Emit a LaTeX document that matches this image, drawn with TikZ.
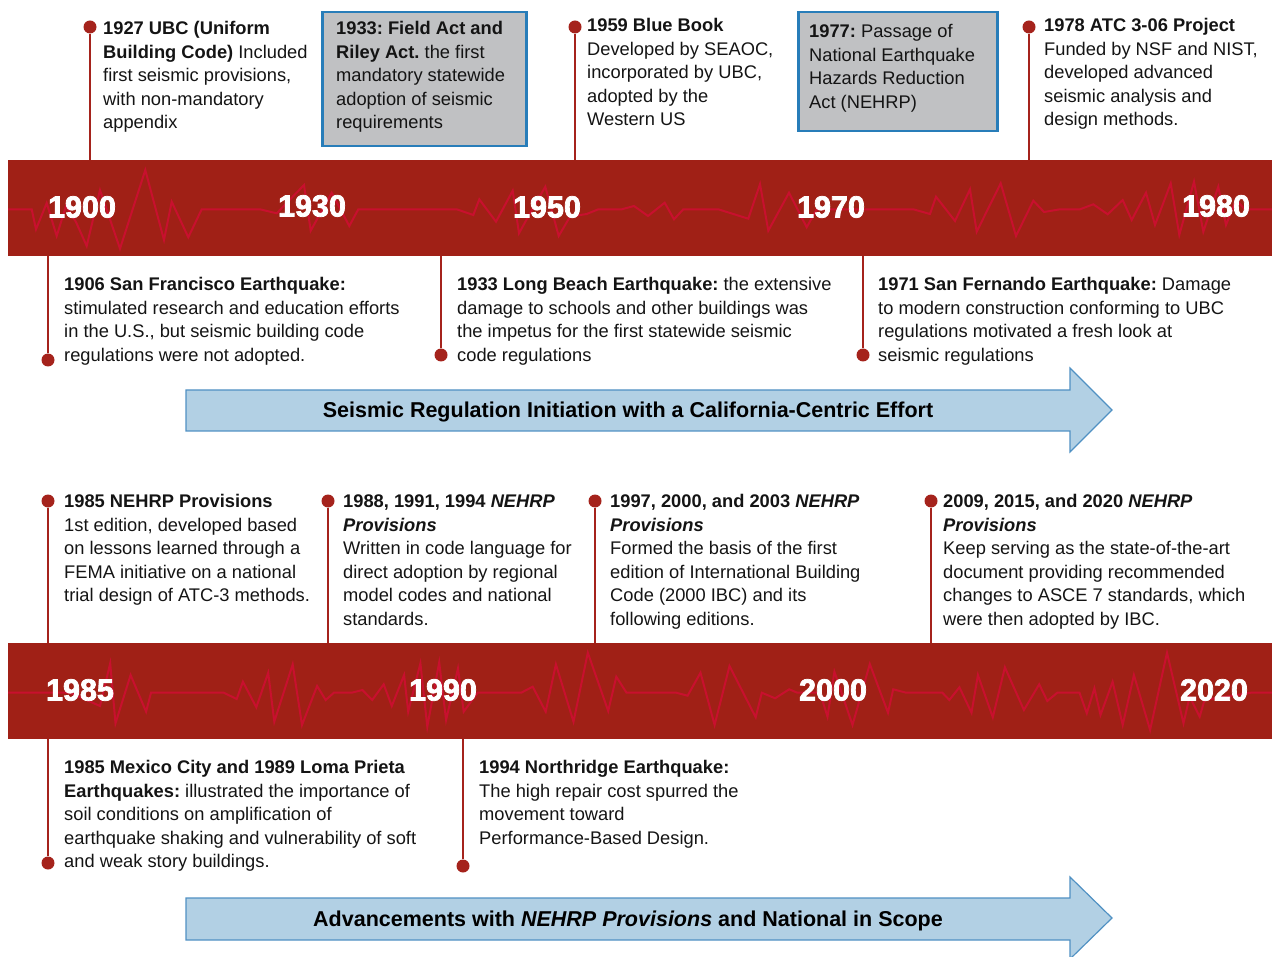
\documentclass[tikz,border=0pt]{standalone}
\usepackage{fontspec}
\setmainfont{Liberation Sans}
\newfontfamily\yearfont[FakeBold=2.5]{Liberation Sans Bold}
\definecolor{bandred}{RGB}{160,32,22}
\definecolor{quake}{RGB}{200,16,46}
\definecolor{stem}{RGB}{165,35,28}
\definecolor{boxgray}{RGB}{192,193,195}
\definecolor{boxblue}{RGB}{40,125,185}
\definecolor{arrowfill}{RGB}{178,208,228}
\definecolor{arrowline}{RGB}{80,145,195}
\definecolor{txt}{RGB}{20,20,20}
\tikzset{
  band/.style={fill=bandred, draw=none, anchor=north west, inner sep=0pt, minimum width=1264pt, minimum height=96pt},
  wave/.style={quake, line width=2pt, line join=miter},
  stemline/.style={stem, line width=2.5pt},
  dot/.style={circle, fill=stem, inner sep=0pt, minimum size=13pt},
  body/.style={anchor=north west, inner sep=0pt, align=left, text=txt, font=\fontsize{18.3}{23.5}\selectfont\frenchspacing},
  gbox/.style={fill=boxgray, draw=boxblue, line width=2.5pt, anchor=north west, inner sep=0pt},
  yr/.style={text=white, inner sep=0pt, font=\yearfont\fontsize{30.5}{32}\selectfont},
  arrowbody/.style={fill=arrowfill, draw=arrowline, line width=1.2pt},
  arrowtext/.style={anchor=base, inner sep=0pt, text=black, font=\bfseries\fontsize{21.5}{24}\selectfont}
}
\begin{document}
\begin{tikzpicture}[x=1pt,y=-1pt]
\useasboundingbox (0,0) rectangle (1272,957);
% ---------- top band ----------
\node[band] (band1) at (8,160) {};
\draw[wave] (8,209.3) -- (31.7,209.3) -- (36,229.3) -- (46.7,203) -- (56.7,236) -- (66,206) -- (76,222) -- (86.7,246) -- (100,190) -- (120,248.7) -- (145.3,170) -- (164,240) -- (171.7,201.7) -- (188.3,237.3) -- (201.7,209.3) -- (260,209.3) -- (276.7,213.3) -- (304,185) -- (310.7,230.7) -- (331.7,192.7) -- (349.3,226) -- (358.3,209.3) -- (456.7,209.3) -- (473.3,215) -- (479.3,199.3) -- (496,221.7) -- (512.7,190.7) -- (519,233.3) -- (530,213.3) -- (545.3,186.7) -- (558.7,236) -- (570,216.7) -- (586.7,214) -- (598.3,209.3) -- (621.7,209.3) -- (634,206) -- (648,216) -- (664.7,202.7) -- (674,219.3) -- (683.3,209.3) -- (718.3,209.3) -- (748.3,218.7) -- (760,184) -- (768.3,230.7) -- (789,192.7) -- (806.7,227.3) -- (816.7,209.3) -- (913.3,209.3) -- (930,214) -- (936,196.7) -- (955,221) -- (970,189.3) -- (976.7,231.7) -- (1000.7,183.3) -- (1016,236) -- (1033.3,200.7) -- (1044,212) -- (1060,209.3) -- (1080,209.3) -- (1093.3,204.3) -- (1107.7,214.3) -- (1122.7,200) -- (1131.7,220) -- (1146,192.7) -- (1155,225) -- (1170.7,183.3) -- (1179.3,235) -- (1194,181.7) -- (1203.3,231.7) -- (1218.3,186.7) -- (1226,225) -- (1236,200) -- (1245,209.3) -- (1272,209.3);
\node[yr] (y1900) at (82,207) {1900};
\node[yr] (y1930) at (312,206) {1930};
\node[yr] (y1950) at (547,207) {1950};
\node[yr] (y1970) at (831,207) {1970};
\node[yr] (y1980) at (1216,206) {1980};
% ---------- bottom band ----------
\node[band] (band2) at (8,643) {};
\draw[wave] (8.2,692.7) -- (44.9,692.7) -- (70,692.7) -- (100,706) -- (110.2,663.3) -- (115.5,723.3) -- (130.6,675) -- (146.1,711.7) -- (151,692.7) -- (223.7,692.7) -- (236.7,699) -- (242.9,681.7) -- (256.3,707.3) -- (268.2,672.7) -- (274.3,721.7) -- (292.7,664.3) -- (302,725) -- (317.1,686) -- (325.7,700) -- (333.9,692.7) -- (351.8,692.7) -- (362.4,690) -- (372.2,700) -- (383.7,684.3) -- (391.8,706) -- (404.1,675) -- (408.2,711.7) -- (420.4,663.3) -- (427.3,726.7) -- (439.2,662.3) -- (446.1,720) -- (458,668.3) -- (463.7,711.7) -- (477.6,692.7) -- (521.2,692.7) -- (532.7,686.7) -- (545.7,711.7) -- (555.9,664.3) -- (573.5,721.7) -- (587.8,652.7) -- (608.2,711) -- (616.3,676.7) -- (626.5,692.7) -- (676.3,692.7) -- (687.6,695.7) -- (700.5,672.7) -- (714.6,725) -- (729.5,666) -- (755.7,717.3) -- (761.8,692.7) -- (775.1,698.3) -- (789.2,689.3) -- (797.3,692.7) -- (820,692.7) -- (827.5,716.7) -- (834.4,671.7) -- (852.5,725) -- (869.8,664) -- (888,712.7) -- (893.2,689.3) -- (906.1,692.7) -- (942.4,692.7) -- (949.3,700) -- (959.4,687.3) -- (971.5,712.7) -- (977.9,675) -- (992.8,717.3) -- (1004.9,667.3) -- (1023.9,710) -- (1039.2,684.3) -- (1047.3,701) -- (1057.3,692.7) -- (1079.5,692.7) -- (1086.8,713.3) -- (1094.4,688.3) -- (1100.5,715) -- (1112.6,681.7) -- (1122.7,725) -- (1133.9,675) -- (1150.1,730) -- (1167,652.7) -- (1183.5,723.3) -- (1189.6,696.7) -- (1199.7,716.7) -- (1204.5,700) -- (1250.9,692.7) -- (1272,692.7);
\node[yr] (y1985) at (80,690) {1985};
\node[yr] (y1990) at (443,690) {1990};
\node[yr] (y2000) at (833,690) {2000};
\node[yr] (y2020) at (1214,690) {2020};
% ---------- top events above band ----------
\node[dot] (d1927) at (90,27) {};
\draw[stemline] (d1927) -- (d1927 |- band1.north);
\node[body] (t1927) at (103,18) {\strut\textbf{1927 UBC (Uniform}\\\textbf{Building Code)} Included\\first seismic provisions,\\with non-mandatory\\appendix};
\node[gbox, minimum width=204pt, minimum height=134pt] (b1933) at (321,11) {};
\node[body] (t1933) at (336,18) {\strut\textbf{1933: Field Act and}\\\textbf{Riley Act.} the first\\mandatory statewide\\adoption of seismic\\requirements};
\node[dot] (d1959) at (575,27) {};
\draw[stemline] (d1959) -- (d1959 |- band1.north);
\node[body] (t1959) at (587,15) {\strut\textbf{1959 Blue Book}\\Developed by SEAOC,\\incorporated by UBC,\\adopted by the\\Western US};
\node[gbox, minimum width=199pt, minimum height=119pt] (b1977) at (797,11) {};
\node[body] (t1977) at (809,21) {\strut\textbf{1977:} Passage of\\National Earthquake\\Hazards Reduction\\Act (NEHRP)};
\node[dot] (d1978) at (1029,27) {};
\draw[stemline] (d1978) -- (d1978 |- band1.north);
\node[body] (t1978) at (1044,15) {\strut\textbf{1978 ATC 3-06 Project}\\Funded by NSF and NIST,\\developed advanced\\seismic analysis and\\design methods.};
% ---------- top events below band ----------
\node[dot] (d1906) at (48,360) {};
\draw[stemline] (d1906) -- (d1906 |- band1.south);
\node[body] (t1906) at (64,274) {\strut\textbf{1906 San Francisco Earthquake:}\\stimulated research and education efforts\\in the U.S., but seismic building code\\regulations were not adopted.};
\node[dot] (d1933) at (441,355) {};
\draw[stemline] (d1933) -- (d1933 |- band1.south);
\node[body] (t1933lb) at (457,274) {\strut\textbf{1933 Long Beach Earthquake:} the extensive\\damage to schools and other buildings was\\the impetus for the first statewide seismic\\code regulations};
\node[dot] (d1971) at (863,355) {};
\draw[stemline] (d1971) -- (d1971 |- band1.south);
\node[body] (t1971) at (878,274) {\strut\textbf{1971 San Fernando Earthquake:} Damage\\to modern construction conforming to UBC\\regulations motivated a fresh look at\\seismic regulations};
% ---------- arrow 1 ----------
\draw[arrowbody] (186,390) -- (1070,390) -- (1070,368) -- (1112,410) -- (1070,452) -- (1070,431) -- (186,431) -- cycle;
\node[arrowtext] (a1) at (628,417.7) {Seismic Regulation Initiation with a California-Centric Effort};
% ---------- bottom events above band ----------
\node[dot] (d1985) at (48,501) {};
\draw[stemline] (d1985) -- (d1985 |- band2.north);
\node[body] (t1985) at (64,491) {\strut\textbf{1985 NEHRP Provisions}\\1st edition, developed based\\on lessons learned through a\\FEMA initiative on a national\\trial design of ATC-3 methods.};
\node[dot] (d1988) at (328,501) {};
\draw[stemline] (d1988) -- (d1988 |- band2.north);
\node[body] (t1988) at (343,491) {\strut\textbf{1988, 1991, 1994 \textit{NEHRP}}\\\textbf{\textit{Provisions}}\\Written in code language for\\direct adoption by regional\\model codes and national\\standards.};
\node[dot] (d1997) at (595,501) {};
\draw[stemline] (d1997) -- (d1997 |- band2.north);
\node[body] (t1997) at (610,491) {\strut\textbf{1997, 2000, and 2003 \textit{NEHRP}}\\\textbf{\textit{Provisions}}\\Formed the basis of the first\\edition of International Building\\Code (2000 IBC) and its\\following editions.};
\node[dot] (d2009) at (931,501) {};
\draw[stemline] (d2009) -- (d2009 |- band2.north);
\node[body] (t2009) at (943,491) {\strut\textbf{2009, 2015, and 2020 \textit{NEHRP}}\\\textbf{\textit{Provisions}}\\Keep serving as the state-of-the-art\\document providing recommended\\changes to ASCE 7 standards, which\\were then adopted by IBC.};
% ---------- bottom events below band ----------
\node[dot] (dmex) at (48,863) {};
\draw[stemline] (dmex) -- (dmex |- band2.south);
\node[body] (tmex) at (64,757) {\strut\textbf{1985 Mexico City and 1989 Loma Prieta}\\\textbf{Earthquakes:} illustrated the importance of\\soil conditions on amplification of\\earthquake shaking and vulnerability of soft\\and weak story buildings.};
\node[dot] (d1994) at (463,866) {};
\draw[stemline] (d1994) -- (d1994 |- band2.south);
\node[body] (t1994) at (479,757) {\strut\textbf{1994 Northridge Earthquake:}\\The high repair cost spurred the\\movement toward\\Performance-Based Design.};
% ---------- arrow 2 ----------
\draw[arrowbody] (186,898) -- (1070,898) -- (1070,877) -- (1112,918) -- (1070,959) -- (1070,940) -- (186,940) -- cycle;
\node[arrowtext] (a2) at (628,926.7) {Advancements with \textit{NEHRP Provisions} and National in Scope};
\end{tikzpicture}
\end{document}
